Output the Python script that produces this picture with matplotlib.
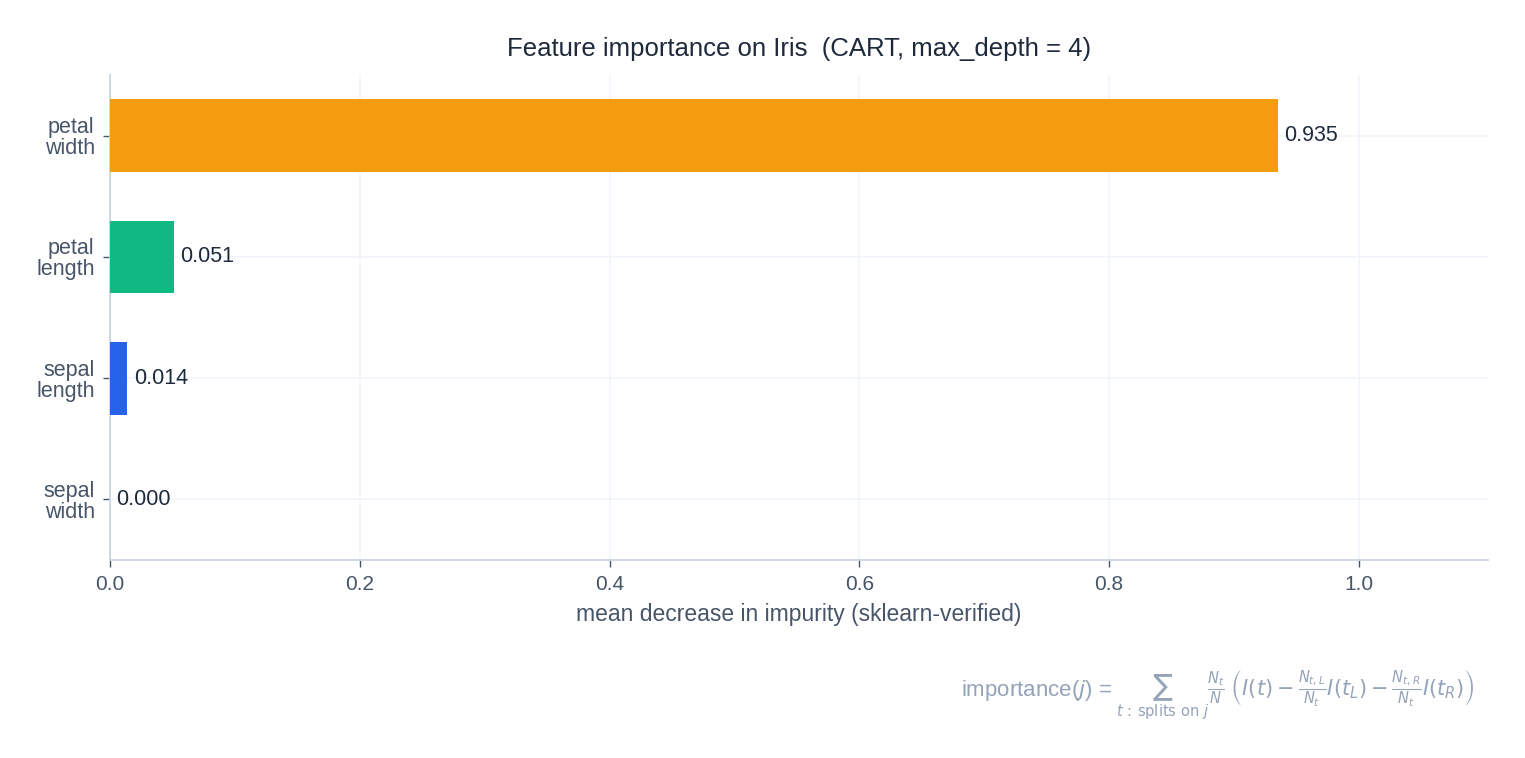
import matplotlib
matplotlib.use('Agg')
from matplotlib import pyplot as plt

features = ['petal\nwidth', 'petal\nlength', 'sepal\nlength', 'sepal\nwidth']
importances = [0.935, 0.051, 0.014, 0.000]
colors = ['#f39c0f', '#10b981', '#2563eb', '#8b5cf6']
xticks = [0.0, 0.2, 0.4, 0.6, 0.8, 1.0]

plt.rcParams['font.family'] = ['Liberation Sans', 'DejaVu Sans']
plt.rcParams['mathtext.fontset'] = 'dejavusans'

fig = plt.figure(figsize=(15.25, 7.58), dpi=100)
ax = fig.add_axes([0.0721, 0.2612, 0.9036, 0.6398])

y = list(range(len(features)))
ax.barh(y, importances, height=0.6, color=colors, zorder=3)

# value labels right of each bar
for yi, v in zip(y, importances):
    ax.text(v + 0.005, yi, f"{v:.3f}", va='center', ha='left',
            fontsize=15.5, color='#1e293b', zorder=4)

ax.set_yticks(y)
ax.set_yticklabels(features, fontsize=15.5, color='#475569', linespacing=1.0)
ax.set_ylim(3.5, -0.5)
ax.set_xlim(0, max(importances) * 1.18)
ax.set_xticks(xticks)
ax.set_xticklabels([f"{t:.1f}" for t in xticks], fontsize=15, color='#475569')

ax.grid(True, color='#f1f5f9', linewidth=1.2, zorder=0)
ax.set_axisbelow(True)
for s in ['top', 'right']:
    ax.spines[s].set_visible(False)
for s in ['left', 'bottom']:
    ax.spines[s].set_color('#cbd5e1')
    ax.spines[s].set_linewidth(1.3)
ax.tick_params(axis='both', length=5, width=1, color='#475569', pad=6)

ax.set_xlabel('mean decrease in impurity (sklearn-verified)', fontsize=16.5,
              color='#475569', labelpad=6)
ax.set_title('Feature importance on Iris  (CART, max_depth = 4)', fontsize=18.5,
             color='#1e293b', pad=14)

# formula: math part right-aligned, text prefix placed just left of it
math = (r"$\sum_{t\,:\,\mathrm{splits\ on}\ j} \frac{N_t}{N}\;\left(I(t) - "
        r"\frac{N_{t,L}}{N_t}I(t_L) - \frac{N_{t,R}}{N_t}I(t_R)\right)$")
mt = fig.text(0.967, 0.082, math, ha='right', va='baseline', fontsize=15,
              color='#94a3b8')
fig.canvas.draw()
bb = mt.get_window_extent().transformed(fig.transFigure.inverted())
fig.text(bb.x0 - 0.002, 0.082, r"importance($j$) = ", ha='right', va='baseline',
         fontsize=16, color='#94a3b8')

fig.savefig('out.png', dpi=100, facecolor='white')
